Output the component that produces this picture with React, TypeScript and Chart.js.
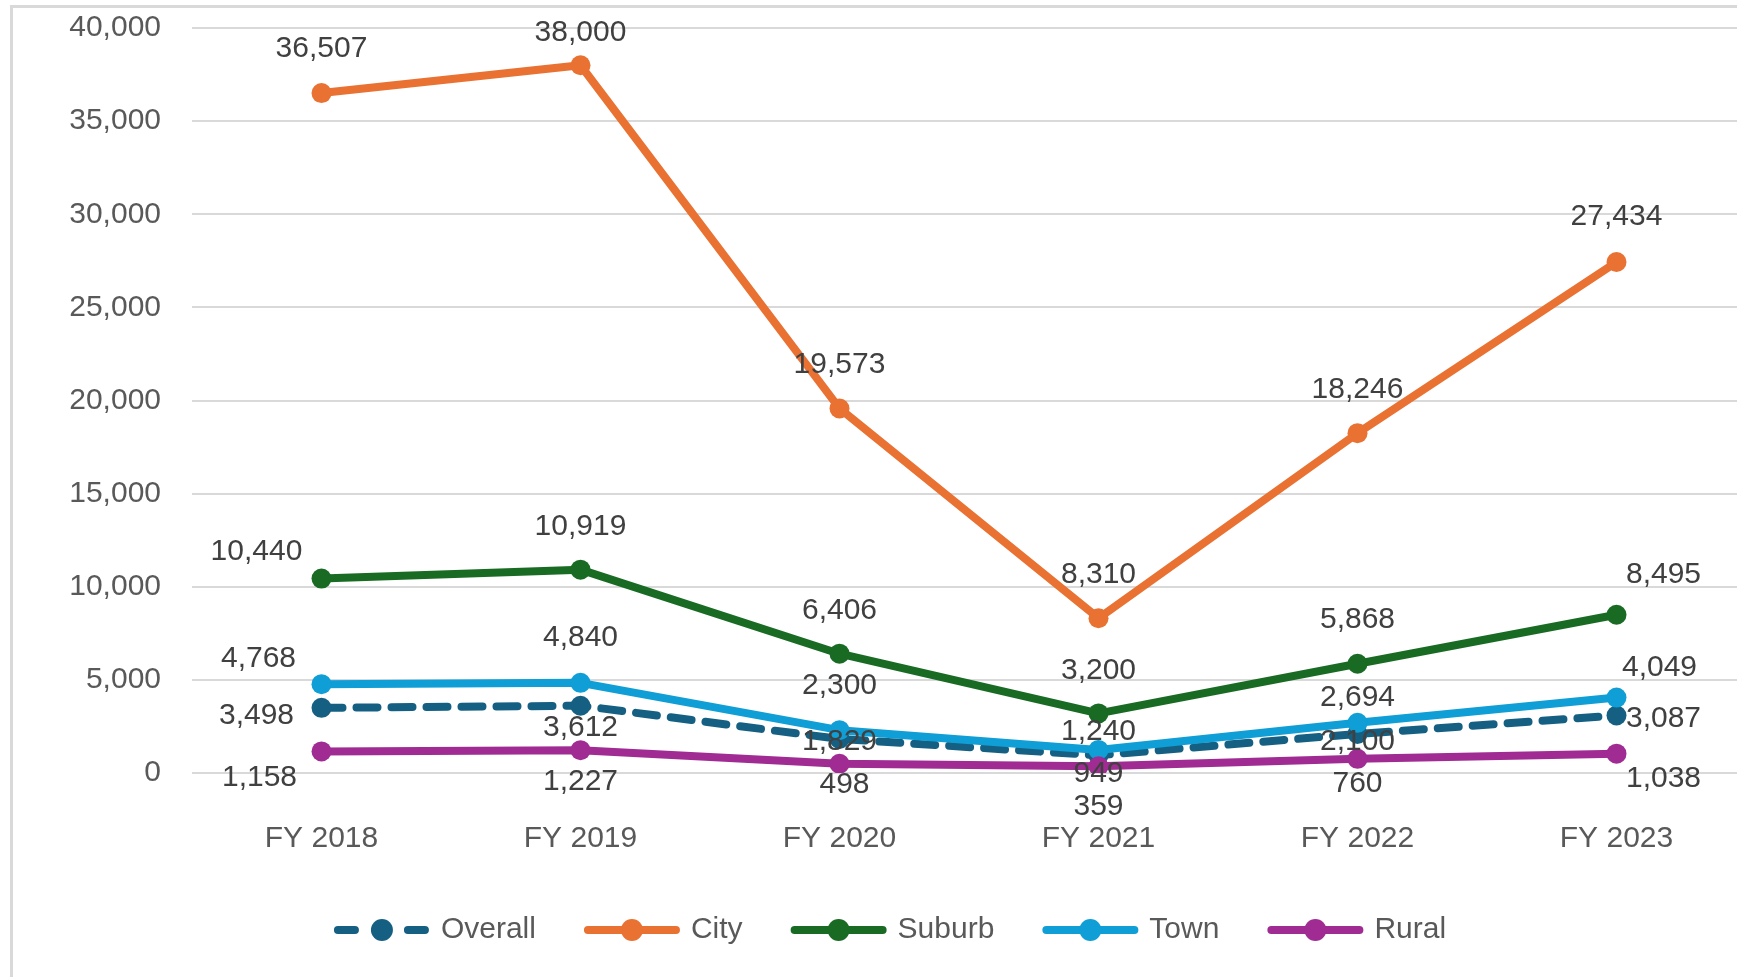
import React, { useEffect, useRef } from "react";
import { Chart, registerables } from "chart.js";

Chart.register(...registerables);

const CATEGORIES = ["FY 2018", "FY 2019", "FY 2020", "FY 2021", "FY 2022", "FY 2023"];
const OVERALL = [3498, 3612, 1829, 949, 2100, 3087];
const CITY = [36507, 38000, 19573, 8310, 18246, 27434];
const SUBURB = [10440, 10919, 6406, 3200, 5868, 8495];
const TOWN = [4768, 4840, 2300, 1240, 2694, 4049];
const RURAL = [1158, 1227, 498, 359, 760, 1038];

const Y_MIN = 0;
const Y_MAX = 40000;
const Y_STEP = 5000;

// label placement (style): offset of label centre from point centre
const OFF_OVERALL = [[-65, 8], [0, 22], [0, 3], [0, 18], [0, 8], [47, 3]];
const OFF_CITY = [[0, -44], [0, -44], [0, -44], [0, -43], [0, -43], [0, -45]];
const OFF_SUBURB = [[-65, -27], [0, -43], [0, -43], [0, -43], [0, -44], [47, -40]];
const OFF_TOWN = [[-63, -25], [0, -45], [0, -44], [0, -18], [0, -25], [43, -30]];
const OFF_RURAL = [[-62, 26], [0, 32], [5, 21], [0, 40], [0, 25], [47, 25]];

const FONT = '"Liberation Sans", Arial, sans-serif';
const fmt = (v: number) => v.toLocaleString("en-US");

const frame = {
  id: "frame",
  beforeDraw(chart: any) {
    const ctx = chart.ctx;
    ctx.save();
    ctx.fillStyle = "#d9d9d9";
    ctx.fillRect(10, 5, 3, chart.height);
    ctx.fillRect(10, 5, chart.width, 3);
    ctx.restore();
  },
};

const dataLabels = {
  id: "dataLabels",
  afterDatasetsDraw(chart: any) {
    const ctx = chart.ctx;
    ctx.save();
    ctx.font = `30px ${FONT}`;
    ctx.fillStyle = "#404040";
    ctx.textAlign = "center";
    ctx.textBaseline = "middle";
    chart.data.datasets.forEach((ds: any, di: number) => {
      const meta = chart.getDatasetMeta(di);
      meta.data.forEach((pt: any, i: number) => {
        const off = ds.labelOffsets[i];
        let y = pt.y + off[1];
        if (y < chart.chartArea.top + 5) y = chart.chartArea.top + 5;
        ctx.fillText(fmt(ds.data[i]), pt.x + off[0], y);
      });
    });
    ctx.restore();
  },
};

const customLegend = {
  id: "customLegend",
  afterDraw(chart: any) {
    const ctx = chart.ctx;
    const lineW = 96;
    const gapText = 11;
    const gapItem = 48;
    const y = 930;
    ctx.save();
    ctx.font = `30px ${FONT}`;
    const items = chart.data.datasets.map((ds: any) => ({
      ds,
      tw: ctx.measureText(ds.label).width,
    }));
    const total =
      items.reduce((s: number, it: any) => s + lineW + gapText + it.tw, 0) +
      gapItem * (items.length - 1);
    let x = 890 - total / 2;
    items.forEach((it: any) => {
      const ds = it.ds;
      ctx.strokeStyle = ds.borderColor;
      ctx.lineWidth = ds.borderWidth;
      ctx.lineCap = "round";
      if (ds.borderDash && ds.borderDash.length) {
        ctx.setLineDash([17, 53]);
      } else {
        ctx.setLineDash([]);
      }
      ctx.beginPath();
      ctx.moveTo(x + 4, y);
      ctx.lineTo(x + lineW - 4, y);
      ctx.stroke();
      ctx.setLineDash([]);
      ctx.fillStyle = ds.borderColor;
      ctx.beginPath();
      ctx.arc(x + lineW / 2, y, 11, 0, Math.PI * 2);
      ctx.fill();
      ctx.fillStyle = "#595959";
      ctx.textAlign = "left";
      ctx.textBaseline = "middle";
      ctx.fillText(ds.label, x + lineW + gapText, y);
      x += lineW + gapText + it.tw + gapItem;
    });
    ctx.restore();
  },
};

function series(label: string, data: number[], color: string, offsets: number[][], order: number, dashed = false) {
  return {
    label,
    data,
    borderColor: color,
    backgroundColor: color,
    pointBackgroundColor: color,
    pointBorderColor: color,
    borderWidth: 8,
    pointRadius: 10,
    pointBorderWidth: 0,
    borderDash: dashed ? [21, 14] : [],
    borderCapStyle: dashed ? "round" : "butt",
    borderJoinStyle: "round",
    tension: 0,
    order,
    labelOffsets: offsets,
  };
}

export default function App() {
  const ref = useRef<HTMLCanvasElement | null>(null);
  useEffect(() => {
    if (!ref.current) return;
    const chart = new Chart(ref.current, {
      type: "line",
      data: {
        labels: CATEGORIES,
        datasets: [
          series("Overall", OVERALL, "#156082", OFF_OVERALL, 5, true),
          series("City", CITY, "#E97132", OFF_CITY, 4),
          series("Suburb", SUBURB, "#196B24", OFF_SUBURB, 3),
          series("Town", TOWN, "#0F9ED5", OFF_TOWN, 2),
          series("Rural", RURAL, "#A02B93", OFF_RURAL, 1),
        ] as any,
      },
      options: {
        responsive: false,
        animation: false,
        devicePixelRatio: 1,
        layout: { padding: { top: 28, right: 6, bottom: 0, left: 0 } },
        plugins: {
          legend: { display: false },
          tooltip: { enabled: false },
          title: { display: false },
        },
        scales: {
          x: {
            type: "category",
            offset: true,
            grid: { display: false, drawTicks: false },
            border: { display: false },
            ticks: {
              color: "#595959",
              font: { size: 30, family: FONT },
              padding: 48,
              maxRotation: 0,
            },
            afterFit: (s: any) => {
              s.height = 204;
            },
          },
          y: {
            min: Y_MIN,
            max: Y_MAX,
            grid: { color: "#d9d9d9", lineWidth: 2, drawTicks: false },
            border: { display: false },
            ticks: {
              stepSize: Y_STEP,
              color: "#595959",
              font: { size: 30, family: FONT },
              padding: 31,
              callback: (v: any) => fmt(Number(v)),
            },
            afterFit: (s: any) => {
              s.width = 192;
              s.paddingTop = 0;
              s.paddingBottom = 0;
            },
          },
        },
      } as any,
      plugins: [frame, dataLabels, customLegend],
    });
    return () => chart.destroy();
  }, []);
  return (
    <div style={{ position: "absolute", left: 0, top: 0, width: 1737, height: 977, overflow: "hidden", background: "#fff" }}>
      <canvas ref={ref} width={1756} height={977} style={{ display: "block" }} />
    </div>
  );
}
